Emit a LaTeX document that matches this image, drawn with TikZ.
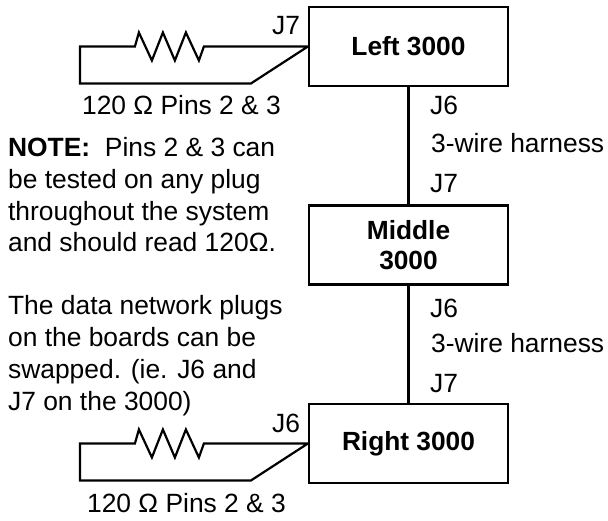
\documentclass[tikz,border=0pt]{standalone}
\usepackage{fontspec}
\setmainfont{Liberation Sans}
\tikzstyle{every path}+=[line width=2.2pt]
\tikzstyle{box}=[rectangle,draw,minimum width=199pt,minimum height=79pt,inner sep=0pt,font=\fontsize{26.3}{30}\selectfont\bfseries,align=center,node distance=198.5pt]
\tikzstyle{lab}=[anchor=base west,inner sep=0pt,font=\fontsize{26.4}{31.7}\selectfont,align=left]
\begin{document}
\begin{tikzpicture}[x=1pt,y=-1pt]
\useasboundingbox (0,0) rectangle (608,521);

\node[box] (lbox) at (408.5,46.5) {Left 3000};
\node[box,below of=lbox] (mbox) {Middle\\3000};
\node[box,below of=mbox] (rbox) {Right 3000};

\draw (lbox) -- (mbox);
\draw (mbox) -- (rbox);

\draw (lbox.west) -- ++(-104,0) -- ++(-5,14) -- ++(-13,-28) -- ++(-11,28) -- ++(-12,-28) -- ++(-11,28) -- ++(-13,-28) -- ++(-4,14) -- ++(-55,0) -- ++(0,37) -- ++(171,0) -- (lbox.west);
\draw (rbox.west) -- ++(-104,0) -- ++(-5,14) -- ++(-13,-28) -- ++(-11,28) -- ++(-12,-28) -- ++(-11,28) -- ++(-13,-28) -- ++(-4,14) -- ++(-55,0) -- ++(0,37) -- ++(171,0) -- (rbox.west);

\node[lab] (j7a) at (271,35) {J7};
\node[lab] (resa) at (81,115) {120 Ω Pins 2 \& 3};
\node[lab] (j6a) at (429,115) {J6};
\node[lab] (wirea) at (430,153) {3-wire harness};
\node[lab] (j7b) at (429,193) {J7};
\node[lab] (j6b) at (429,318) {J6};
\node[lab] (wireb) at (430,353) {3-wire harness};
\node[lab] (j7c) at (429,392) {J7};
\node[lab] (j6c) at (271,432) {J6};
\node[lab] (resb) at (86,512) {120 Ω Pins 2 \& 3};

\node[lab] (note) at (7,252) {\textbf{NOTE:}\ \ Pins 2 \& 3 can\\be tested on any plug\\throughout the system\\and should read 120Ω.};
\node[lab] (swap) at (7,410) {The data network plugs\\on the boards can be\\swapped. (ie. J6 and\\J7 on the 3000)};
\end{tikzpicture}
\end{document}
